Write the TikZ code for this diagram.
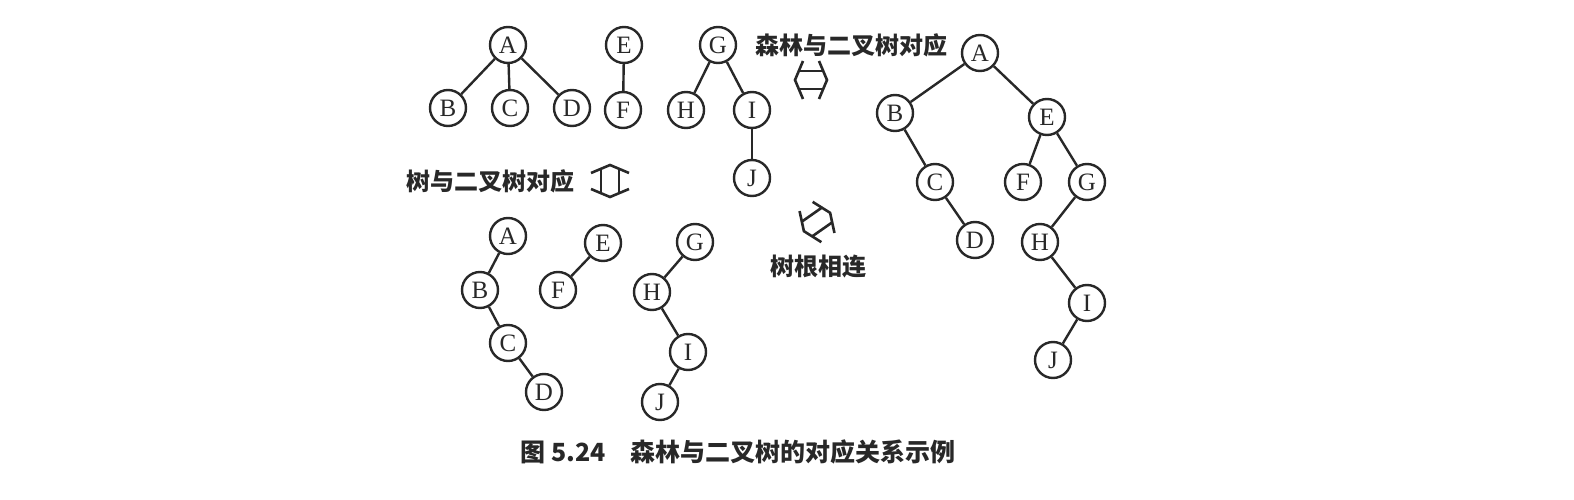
\documentclass[tikz,border=0pt]{standalone}
\usepackage{fontspec}
\setmainfont{Liberation Serif}
\newfontfamily\cjk{Noto Sans CJK SC}
\definecolor{ink}{RGB}{40,40,40}
\tikzset{
  x=1pt,y=-1pt,
  tn/.style={circle,draw=ink,line width=2.4pt,minimum size=36pt,inner sep=0pt,
    text=ink,font=\fontsize{25}{25}\selectfont},
  ed/.style={draw=ink,line width=2.4pt},
  lab/.style={text=ink,inner sep=0pt,font=\cjk\bfseries\fontsize{24}{24}\selectfont},
  dbl/.pic={
    \draw[ink,line width=2.6pt,line join=miter] (-8,-19) -- (-16,0) -- (-8,19);
    \draw[ink,line width=2.6pt,line join=miter] (8,-19) -- (16,0) -- (8,19);
    \draw[ink,line width=2.6pt] (-12.2,-9) -- (12.2,-9);
    \draw[ink,line width=2.6pt] (-12.2,9) -- (12.2,9);
  }
}
\begin{document}
\begin{tikzpicture}
\useasboundingbox[fill=white] (0,0) rectangle (1574,500);
% forest
\node[tn] (fA) at (508,45) {A};
\node[tn] (fB) at (448,108) {B};
\node[tn] (fC) at (510,108) {C};
\node[tn] (fD) at (572,108) {D};
\node[tn] (fE) at (624,45) {E};
\node[tn] (fF) at (623,110) {F};
\node[tn] (fG) at (718,45) {G};
\node[tn] (fH) at (686,110) {H};
\node[tn] (fI) at (752,110) {I};
\node[tn] (fJ) at (752,178) {J};
\draw[ed] (fA) -- (fB);
\draw[ed] (fA) -- (fC);
\draw[ed] (fA) -- (fD);
\draw[ed] (fE) -- (fF);
\draw[ed] (fG) -- (fH);
\draw[ed] (fG) -- (fI);
\draw[ed] (fI) -- (fJ);
% separate binary trees
\node[tn] (bA) at (508,236) {A};
\node[tn] (bB) at (480,290) {B};
\node[tn] (bC) at (508,343) {C};
\node[tn] (bD) at (544,392) {D};
\node[tn] (bE) at (603,243) {E};
\node[tn] (bF) at (558,290) {F};
\node[tn] (bG) at (695,242) {G};
\node[tn] (bH) at (652,292) {H};
\node[tn] (bI) at (688,352) {I};
\node[tn] (bJ) at (660,402) {J};
\draw[ed] (bA) -- (bB);
\draw[ed] (bB) -- (bC);
\draw[ed] (bC) -- (bD);
\draw[ed] (bE) -- (bF);
\draw[ed] (bG) -- (bH);
\draw[ed] (bH) -- (bI);
\draw[ed] (bI) -- (bJ);
% combined binary tree
\node[tn] (tA) at (980,53) {A};
\node[tn] (tB) at (895,113) {B};
\node[tn] (tE) at (1047,117) {E};
\node[tn] (tC) at (935,182) {C};
\node[tn] (tF) at (1023,182) {F};
\node[tn] (tG) at (1087,182) {G};
\node[tn] (tD) at (975,240) {D};
\node[tn] (tH) at (1040,242) {H};
\node[tn] (tI) at (1087,303) {I};
\node[tn] (tJ) at (1053,360) {J};
\draw[ed] (tA) -- (tB);
\draw[ed] (tA) -- (tE);
\draw[ed] (tB) -- (tC);
\draw[ed] (tC) -- (tD);
\draw[ed] (tE) -- (tF);
\draw[ed] (tE) -- (tG);
\draw[ed] (tG) -- (tH);
\draw[ed] (tH) -- (tI);
\draw[ed] (tI) -- (tJ);
% labels and arrows
\node[lab] (l1) at (851,45) {森林与二叉树对应};
\pic (a1) at (811,80) {dbl};
\node[lab] (l2) at (490,181) {树与二叉树对应};
\pic[rotate=90] (a2) at (610,181) {dbl};
\node[lab] (l3) at (818,267) {树根相连};
\pic[rotate=35] (a3) at (817,222) {dbl};
% caption
\node[lab,font=\cjk\bfseries\fontsize{25}{25}\selectfont] (cap) at (738,452) {图 5.24\hspace{1em}森林与二叉树的对应关系示例};
\end{tikzpicture}
\end{document}
